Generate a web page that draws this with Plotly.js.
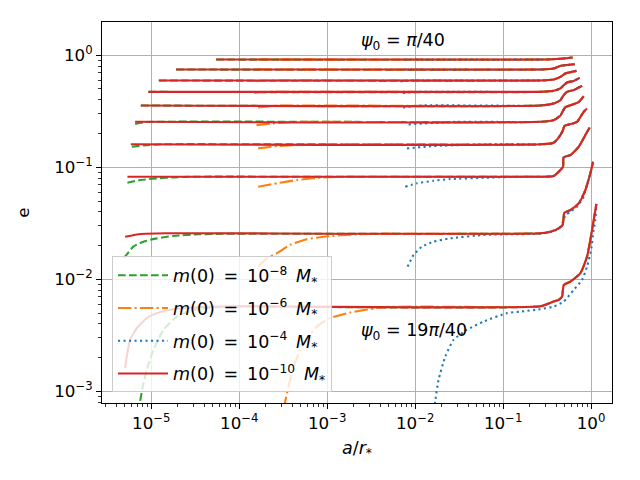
<!DOCTYPE html>
<html>
<head>
<meta charset="utf-8">
<script src="https://cdn.plot.ly/plotly-3.0.1.min.js"></script>
<style>html,body{margin:0;padding:0;background:#fff;}#plot{width:640px;height:480px;}</style>
</head>
<body>
<div id="plot"></div>
<script>
// psi_0 families: pi/40, 3pi/40, ..., 19pi/40 (top to bottom)
const psiFamilies = ['π/40','3π/40','5π/40','7π/40','9π/40','11π/40','13π/40','15π/40','17π/40','19π/40'];

// m(0) = 1e-10 M* (red, solid): full tracks per family
const redX = [
  [5.46e-5, 0.265, 0.41, 0.52, 0.618],
  [1.914e-5, 0.265, 0.3755, 0.448, 0.533, 0.651],
  [1.217e-5, 0.265, 0.3755, 0.448, 0.51, 0.581, 0.681],
  [9.27e-6, 0.265, 0.3755, 0.448, 0.488, 0.533, 0.634, 0.742],
  [7.6e-6, 0.265, 0.3755, 0.448, 0.488, 0.533, 0.634, 0.723, 0.790],
  [6.55e-6, 0.265, 0.3755, 0.448, 0.480, 0.51, 0.608, 0.723, 0.776, 0.824],
  [5.85e-6, 0.265, 0.3755, 0.448, 0.480, 0.497, 0.581, 0.693, 0.824, 0.900],
  [5.35e-6, 0.265, 0.3755, 0.448, 0.480, 0.488, 0.581, 0.723, 0.861, 0.964],
  [5.04e-6, 7.6e-6, 1.5e-5, 0.265, 0.344, 0.428, 0.475, 0.497, 0.581, 0.723, 0.861, 0.982, 1.054],
  [5.04e-6, 5.26e-6, 5.74e-6, 6.84e-6, 8.88e-6, 1.156e-5, 1.783e-5, 3.29e-5, 1e-4, 0.265, 0.3755, 0.428, 0.468, 0.490, 0.581, 0.756, 0.900, 1.026, 1.149]
];
const redE = [
  [0.915, 0.915, 0.927, 0.94, 0.954],
  [0.746, 0.746, 0.761, 0.803, 0.819, 0.831],
  [0.595, 0.595, 0.607, 0.641, 0.687, 0.706, 0.725],
  [0.471, 0.471, 0.481, 0.505, 0.540, 0.571, 0.590, 0.628],
  [0.356, 0.356, 0.371, 0.397, 0.440, 0.471, 0.488, 0.515, 0.533],
  [0.2545, 0.2545, 0.2635, 0.289, 0.320, 0.344, 0.362, 0.381, 0.4055, 0.431],
  [0.1603, 0.1603, 0.1654, 0.1937, 0.215, 0.233, 0.2427, 0.2545, 0.3125, 0.335],
  [0.0823, 0.0823, 0.0835, 0.0944, 0.101, 0.1226, 0.1284, 0.1524, 0.1937, 0.227],
  [0.0240, 0.0254, 0.02575, 0.02575, 0.0266, 0.0285, 0.0305, 0.0393, 0.0415, 0.0477, 0.0626, 0.0883, 0.112],
  [0.001614, 0.002047, 0.00288, 0.00366, 0.0045, 0.00499, 0.00541, 0.00564, 0.00575, 0.00575, 0.00633, 0.00655, 0.00701, 0.00891, 0.00954, 0.01134, 0.01593, 0.0276, 0.0470]
];

// m(0) = 1e-8 M* (green, dashed): points where it departs from the red track
const greenX = [
  [], [], [], [], [],
  [6.55e-6, 8.5e-6],
  [6.0e-6, 8.13e-6, 1.33e-5],
  [5.35e-6, 7.46e-6, 1.156e-5, 1.783e-5, 2.77e-5],
  [4.9e-6, 6.25e-6, 8.13e-6, 1.156e-5, 1.783e-5, 3.54e-5, 6.56e-5],
  [7.2e-6, 7.46e-6, 8.0e-6, 8.88e-6, 1.057e-5, 1.374e-5, 1.95e-5, 3.01e-5, 5.56e-5, 1.02e-4]
];
const greenE = [
  [], [], [], [], [],
  [0.244, 0.2529],
  [0.1524, 0.1567, 0.1603],
  [0.0728, 0.0769, 0.0796, 0.0813, 0.0823],
  [0.0155, 0.01956, 0.02168, 0.0232, 0.0244, 0.02523, 0.0255],
  [6.6e-4, 8.13e-4, 0.001106, 0.001558, 0.00235, 0.00354, 0.00465, 0.00534, 0.00564, 0.00571]
];

// m(0) = 1e-6 M* (orange, dash-dot)
const orangeX = [
  [1.64e-4],
  [1.64e-4],
  [1.52e-4, 2.25e-4],
  [1.48e-4, 2.25e-4],
  [1.64e-4, 2.25e-4, 3.2e-4],
  [1.57e-4, 2.25e-4, 3.79e-4, 6e-4],
  [1.64e-4, 2.68e-4, 4.93e-4, 8e-4],
  [1.64e-4, 2.68e-4, 4.52e-4, 9.08e-4, 2.18e-3],
  [1.64e-4, 2.02e-4, 2.68e-4, 3.79e-4, 5.87e-4, 9.08e-4, 2.18e-3, 6.76e-3],
  [3.24e-4, 3.33e-4, 3.63e-4, 4.14e-4, 5.37e-4, 7.64e-4, 1.08e-3, 1.83e-3, 4.37e-3, 1.048e-2]
];
const orangeE = [
  [0.915],
  [0.746],
  [0.586, 0.595],
  [0.461, 0.471],
  [0.342, 0.351, 0.356],
  [0.2377, 0.2455, 0.2529, 0.2545],
  [0.1474, 0.1545, 0.158, 0.1603],
  [0.0670, 0.0719, 0.0769, 0.0813, 0.0823],
  [0.01298, 0.0152, 0.0171, 0.0203, 0.02277, 0.0240, 0.02523, 0.0255],
  [6.86e-4, 8.13e-4, 0.001106, 0.001667, 0.00269, 0.00379, 0.0045, 0.00505, 0.00564, 0.00571]
];

// m(0) = 1e-4 M* (blue, dotted)
const blueX = [
  [7.5e-3],
  [7.5e-3],
  [6.76e-3, 1.0e-2],
  [7.26e-3, 1.1e-2],
  [7.26e-3, 1.2e-2],
  [8.41e-3, 1.62e-2, 3e-2],
  [8.07e-3, 1.62e-2, 3.88e-2, 8e-2],
  [7.71e-3, 1.048e-2, 1.62e-2, 2.51e-2, 6.0e-2, 0.1107, 0.2],
  [8.2e-3, 9.59e-3, 1.194e-2, 1.62e-2, 2.51e-2, 6.0e-2, 0.1107, 0.265, 0.344, 0.428, 0.475, 0.51, 0.581, 0.693, 0.824],
  [0.01648, 0.0169, 0.01846, 0.0220, 0.0273, 0.0388, 0.060, 0.1107, 0.157, 0.265, 0.3755, 0.488, 0.634, 0.790, 0.900, 1.0, 1.070, 1.119]
];
const blueE = [
  [0.915],
  [0.746],
  [0.586, 0.595],
  [0.461, 0.471],
  [0.342, 0.356],
  [0.241, 0.2492, 0.2545],
  [0.1474, 0.1545, 0.1586, 0.1603],
  [0.0670, 0.0719, 0.0758, 0.0785, 0.0806, 0.0818, 0.0823],
  [0.01298, 0.0165, 0.01956, 0.02168, 0.0232, 0.0249, 0.02523, 0.0255, 0.0264, 0.0283, 0.0322, 0.0372, 0.0401, 0.0445, 0.0546],
  [6.86e-4, 8.13e-4, 0.001269, 0.002047, 0.00288, 0.00354, 0.0042, 0.00499, 0.00515, 0.00541, 0.00571, 0.00633, 0.00804, 0.00988, 0.01298, 0.01828, 0.0276, 0.0338]
];

const legendNames = [
  '<i>m</i>(0)\u2002=\u200210<sup>−8</sup>\u2002<i>M</i><sub>*</sub>',
  '<i>m</i>(0)\u2002=\u200210<sup>−6</sup>\u2002<i>M</i><sub>*</sub>',
  '<i>m</i>(0)\u2002=\u200210<sup>−4</sup>\u2002<i>M</i><sub>*</sub>',
  '<i>m</i>(0)\u2002=\u200210<sup>−10</sup>\u2002<i>M</i><sub>*</sub>'
];
const xTickVals = [1e-5, 1e-4, 1e-3, 1e-2, 1e-1, 1];
const xTickText = ['10<sup>−5</sup>','10<sup>−4</sup>','10<sup>−3</sup>','10<sup>−2</sup>','10<sup>−1</sup>','10<sup>0</sup>'];
const yTickVals = [1e-3, 1e-2, 1e-1, 1];
const yTickText = ['10<sup>−3</sup>','10<sup>−2</sup>','10<sup>−1</sup>','10<sup>0</sup>'];

function minorTicks(lo, hi) {
  const v = [];
  for (let p = lo; p <= hi; p++) for (let m = 2; m <= 9; m++) v.push(m * Math.pow(10, p));
  return v;
}

function joinRed(sx, se, i) {
  if (sx[i].length === 0) return [redX[i].slice(), redE[i].slice()];
  const xs = sx[i].slice(), es = se[i].slice();
  const last = xs[xs.length - 1];
  redX[i].forEach((x, k) => { if (x > last) { xs.push(x); es.push(redE[i][k]); } });
  return [xs, es];
}

const styles = [
  {src: [greenX, greenE], color: '#2ca02c', dash: '7.7px,3.3px', group: 'g'},
  {src: [orangeX, orangeE], color: '#ff7f0e', dash: '13.3px,3.3px,2.1px,3.3px', group: 'o'},
  {src: [blueX, blueE], color: '#1f77b4', dash: '2.1px,3.4px', group: 'b'},
  {src: null, color: '#d62728', dash: 'solid', group: 'r'}
];

const traces = [];
styles.forEach((s, si) => {
  for (let i = 0; i < psiFamilies.length; i++) {
    const [xs, es] = s.src ? joinRed(s.src[0], s.src[1], i) : [redX[i], redE[i]];
    traces.push({
      x: xs, y: es, type: 'scatter', mode: 'lines',
      line: {color: s.color, width: 2.08, dash: s.dash, shape: 'spline', smoothing: 0.5},
      name: legendNames[si], legendgroup: s.group, showlegend: i === 0,
      hoverinfo: 'skip'
    });
  }
});

const axisCommon = {
  type: 'log', tickmode: 'array', ticks: 'outside', ticklen: 4.9, tickwidth: 1.1, tickcolor: 'black',
  showline: true, linecolor: 'black', linewidth: 1.1, mirror: true,
  showgrid: true, gridcolor: '#b0b0b0', gridwidth: 1.1, zeroline: false,
  tickfont: {size: 16.7, color: 'black'}
};

const layout = {
  width: 640, height: 480,
  margin: {l: 102, r: 28, t: 22, b: 77, pad: 0},
  paper_bgcolor: 'white', plot_bgcolor: 'white',
  font: {family: 'DejaVu Sans', size: 16.7, color: 'black'},
  xaxis: Object.assign({}, axisCommon, {
    range: [Math.log10(2.75e-6), Math.log10(1.73)],
    tickvals: xTickVals, ticktext: xTickText,
    minor: {tickmode: 'array', tickvals: minorTicks(-6, 0), ticks: 'outside', ticklen: 2.8, tickwidth: 0.8, tickcolor: 'black', showgrid: false},
    title: {text: '<i>a</i>/<i>r</i><sub>*</sub>', font: {size: 17.5}, standoff: 9}
  }),
  yaxis: Object.assign({}, axisCommon, {
    range: [Math.log10(7.87e-4), Math.log10(1.98)],
    tickvals: yTickVals, ticktext: yTickText,
    minor: {tickmode: 'array', tickvals: minorTicks(-4, 0), ticks: 'outside', ticklen: 2.8, tickwidth: 0.8, tickcolor: 'black', showgrid: false},
    title: {text: 'e', font: {size: 16.7}, standoff: 20}
  }),
  legend: {
    x: 0.0196, y: 0.028, xanchor: 'left', yanchor: 'bottom',
    bgcolor: 'rgba(255,255,255,0.8)', bordercolor: '#cccccc', borderwidth: 1,
    font: {size: 17.5}, traceorder: 'grouped', tracegroupgap: 7, itemwidth: 50
  },
  annotations: [
    {x: Math.log10(2.27e-3), y: Math.log10(1.34), xref: 'x', yref: 'y', text: '<i>ψ</i><sub>0</sub> = <i>π</i>/40',
     showarrow: false, xanchor: 'left', yanchor: 'middle', font: {size: 17.5}},
    {x: Math.log10(2.27e-3), y: Math.log10(3.42e-3), xref: 'x', yref: 'y', text: '<i>ψ</i><sub>0</sub> = 19<i>π</i>/40',
     showarrow: false, xanchor: 'left', yanchor: 'middle', font: {size: 17.5}}
  ]
};

Plotly.newPlot('plot', traces, layout, {staticPlot: true, displayModeBar: false});
</script>
</body>
</html>
